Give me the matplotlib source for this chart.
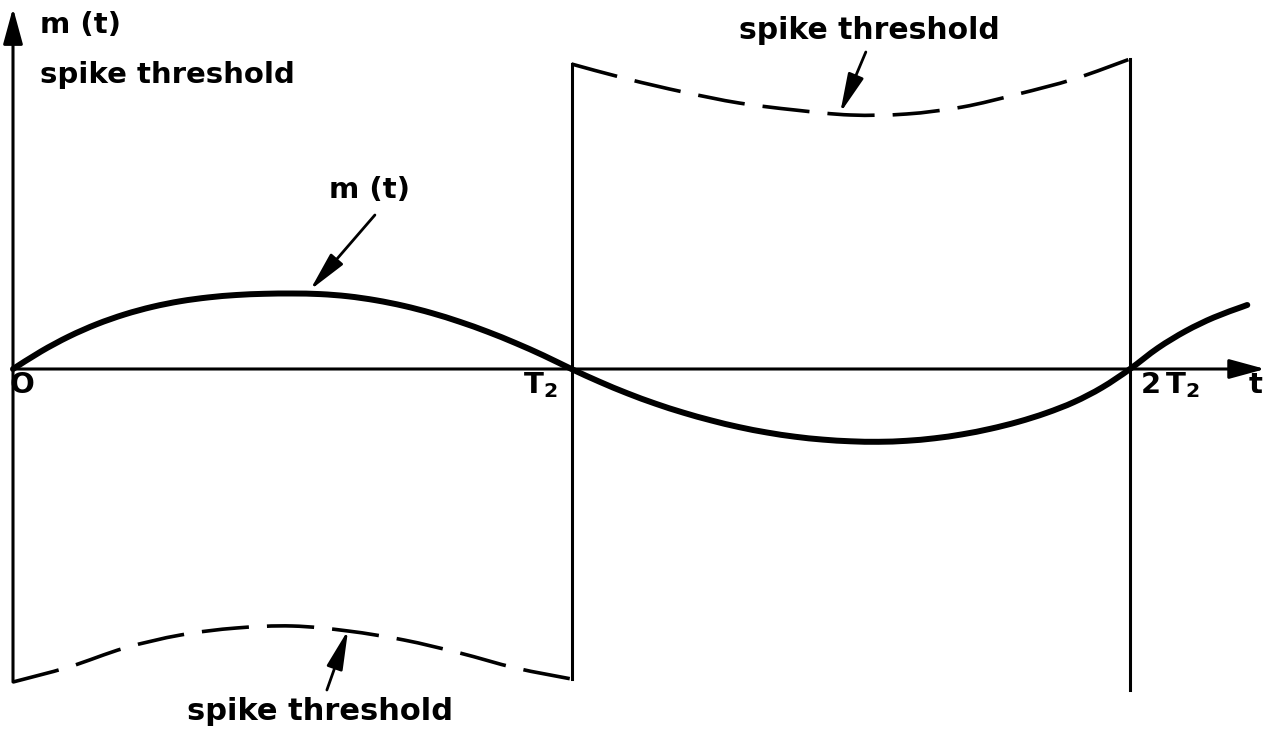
import numpy as np
import matplotlib
matplotlib.use("Agg")
import matplotlib.pyplot as plt
from matplotlib.path import Path
from matplotlib.patches import PathPatch

plt.rcParams['font.family'] = ['DejaVu Sans']
plt.rcParams['font.weight'] = 'bold'
plt.rcParams['mathtext.default'] = 'bf'
plt.rcParams['lines.scale_dashes'] = False

# time in units of T2, amplitudes in arbitrary units
t_m = [0.0, 0.05, 0.1, 0.15, 0.2, 0.25, 0.3, 0.35, 0.4, 0.45, 0.5, 0.55, 0.6, 0.65, 0.7,
       0.75, 0.8, 0.85, 0.9, 0.95, 1.0, 1.05, 1.1, 1.15, 1.2, 1.25, 1.3, 1.35, 1.4, 1.45,
       1.5, 1.55, 1.6, 1.65, 1.7, 1.75, 1.8, 1.85, 1.9, 1.95, 2.0, 2.05, 2.1, 2.15, 2.2, 2.21]
m_vals = [0.0, 0.175, 0.325, 0.448, 0.546, 0.622, 0.678, 0.716, 0.740, 0.752, 0.755,
          0.749, 0.727, 0.687, 0.631, 0.559, 0.472, 0.372, 0.259, 0.135, 0.0,
          -0.127, -0.243, -0.346, -0.436, -0.514, -0.581, -0.635, -0.677, -0.706, -0.723,
          -0.728, -0.718, -0.693, -0.653, -0.598, -0.528, -0.440, -0.330, -0.185, 0.0,
          0.21, 0.38, 0.515, 0.62, 0.64]

# lower spike threshold during first interval
t_low = [0.0, 0.1, 0.2, 0.3, 0.4, 0.5, 0.6, 0.7, 0.8, 0.9, 1.0]
thr_low = [-3.13, -2.98, -2.79, -2.66, -2.59, -2.57, -2.62, -2.71, -2.84, -2.99, -3.10]

# upper spike threshold during second interval
t_up = [1.0, 1.1, 1.2, 1.3, 1.4, 1.5, 1.6, 1.7, 1.8, 1.9, 2.0]
thr_up = [3.05, 2.90, 2.77, 2.66, 2.59, 2.54, 2.55, 2.62, 2.75, 2.90, 3.10]

tick_pos = [0.0, 1.0, 2.0]


def smooth_curve(xs, ys):
    """Catmull-Rom spline through the points, as cubic Bezier path."""
    p = np.column_stack([xs, ys]).astype(float)
    verts = [p[0]]
    codes = [Path.MOVETO]
    n = len(p)
    for i in range(n - 1):
        p0 = p[i - 1] if i > 0 else p[i]
        p1, p2 = p[i], p[i + 1]
        p3 = p[i + 2] if i + 2 < n else p[i + 1]
        verts += [p1 + (p2 - p0) / 6, p2 - (p3 - p1) / 6, p2]
        codes += [Path.CURVE4] * 3
    return Path(verts, codes)


fig = plt.figure(figsize=(12.75, 7.32), dpi=100)
ax = fig.add_axes([0, 0, 1, 1])
ax.set_xlim(-13 / 558.5, (1275 - 13) / 558.5)
ax.set_ylim(-3.63, 3.69)
ax.axis('off')

lw_ax = 2.2
axis_arrow = dict(arrowstyle='-|>,head_length=1.1,head_width=0.3', mutation_scale=20,
                  color='black', lw=lw_ax, shrinkA=0, shrinkB=0)
# time axis and vertical axis
ax.annotate('', xy=(2.242, 0), xytext=(0, 0), arrowprops=axis_arrow)
ax.annotate('', xy=(0, 3.61), xytext=(0, thr_low[0]), arrowprops=axis_arrow)

# vertical jumps of the threshold at T2 and 2T2
ax.plot([tick_pos[1], tick_pos[1]], [thr_low[-1], thr_up[0]], color='black', lw=lw_ax)
ax.plot([tick_pos[2], tick_pos[2]], [-3.21, thr_up[-1]], color='black', lw=lw_ax)

# thresholds (dashed)
dash = (0, (34, 13))
ax.add_patch(PathPatch(smooth_curve(t_low, thr_low), fill=False, ec='black', lw=2.6,
                       linestyle=dash))
ax.add_patch(PathPatch(smooth_curve(t_up, thr_up), fill=False, ec='black', lw=2.6,
                       linestyle=dash))

# m(t)
ax.add_patch(PathPatch(smooth_curve(t_m, m_vals), fill=False, ec='black', lw=4.3,
                       capstyle='round'))

fs = 21
ax.text(0.048, 3.44, 'm (t)', fontsize=fs, ha='left', va='center')
ax.text(0.048, 2.94, 'spike threshold', fontsize=fs, ha='left', va='center')

ax.text(0.016, -0.16, 'O', fontsize=fs, ha='center', va='center')
ax.text(0.944, -0.16, r'$T_2$', fontsize=fs, ha='center', va='center')
ax.text(2.018, -0.16, r'$2\,T_2$', fontsize=fs, ha='left', va='center')
ax.text(2.224, -0.16, 't', fontsize=fs, ha='center', va='center')

arrow = dict(arrowstyle='-|>,head_length=1.2,head_width=0.25', mutation_scale=20,
             color='black', lw=2.0, shrinkA=0, shrinkB=0)
ax.text(0.639, 1.79, 'm (t)', fontsize=fs, ha='center', va='center')
ax.annotate('', xy=(0.532, 0.79), xytext=(0.648, 1.54), arrowprops=arrow)

ax.text(1.534, 3.39, 'spike threshold', fontsize=fs + 0.5, ha='center', va='center')
ax.annotate('', xy=(1.481, 2.56), xytext=(1.527, 3.17), arrowprops=arrow)

ax.text(0.55, -3.43, 'spike threshold', fontsize=fs + 1, ha='center', va='center')
ax.annotate('', xy=(0.600, -2.61), xytext=(0.562, -3.21), arrowprops=arrow)

fig.savefig('out.png', dpi=100, facecolor='white')
